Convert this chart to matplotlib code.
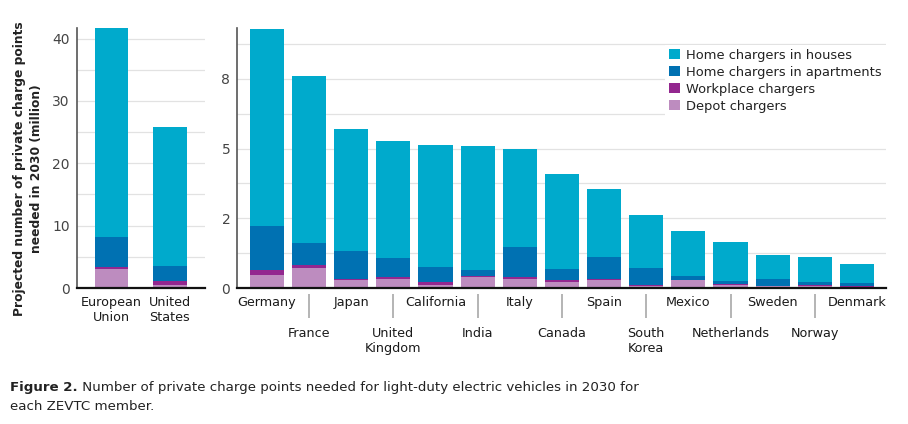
import matplotlib
matplotlib.use("Agg")
import matplotlib.pyplot as plt
import numpy as np

# ---- data (million charge points) ----
big_regions = ["European\nUnion", "United\nStates"]
big_depot = [3.1, 0.48]
big_workplace = [0.32, 0.64]
big_apartments = [4.8, 2.46]
big_houses = [33.5, 22.2]

members = ["Germany", "France", "Japan", "United\nKingdom", "California", "India",
           "Italy", "Canada", "Spain", "South\nKorea", "Mexico", "Netherlands",
           "Sweden", "Norway", "Denmark"]
depot = [0.47, 0.73, 0.29, 0.33, 0.11, 0.38, 0.32, 0.22, 0.29, 0.07, 0.29, 0.11, 0.07, 0.08, 0.05]
workplace = [0.18, 0.08, 0.02, 0.05, 0.11, 0.05, 0.06, 0.07, 0.03, 0.04, 0.01, 0.03, 0.01, 0.03, 0.03]
apartments = [1.57, 0.81, 1.02, 0.69, 0.54, 0.22, 1.09, 0.39, 0.79, 0.61, 0.13, 0.11, 0.24, 0.11, 0.10]
houses = [7.09, 5.98, 4.37, 4.20, 4.36, 4.44, 3.52, 3.41, 2.44, 1.90, 1.63, 1.41, 0.86, 0.89, 0.68]

series_names = ["Depot chargers", "Workplace chargers",
                "Home chargers in apartments", "Home chargers in houses"]
colors = ["#bd8cbf", "#93278f", "#0071b2", "#00aacc"]

left_ticks = [0, 10, 20, 30, 40]
right_ticks = [0, 2.5, 5, 7.5]
right_tick_labels = ["0", "2", "5", "8"]

caption_bold = "Figure 2."
caption_rest = " Number of private charge points needed for light-duty electric vehicles in 2030 for"
caption_line2 = "each ZEVTC member."

W, H = 908, 424
fig = plt.figure(figsize=(W / 100, H / 100), dpi=100)
ax1 = fig.add_axes([76.7 / W, 136 / H, 128.3 / W, 260 / H])
ax2 = fig.add_axes([237.3 / W, 136 / H, 648.4 / W, 260 / H])

grid_c = "#e2e2e2"
txt_c = "#222222"


def stack(ax, x, layers, width):
    bottom = np.zeros(len(x))
    handles = []
    for vals, col, name in zip(layers, colors, series_names):
        h = ax.bar(x, vals, width, bottom=bottom, color=col, label=name, linewidth=0, zorder=2)
        handles.append(h)
        bottom += np.array(vals)
    return handles


# left panel
x1 = np.arange(len(big_regions))
stack(ax1, x1, [big_depot, big_workplace, big_apartments, big_houses], 0.57)
ax1.set_xlim(-0.59, 1.6)
ax1.set_ylim(0, 41.7)
ax1.set_yticks(left_ticks)
ax1.set_yticks(np.arange(5, 41, 5), minor=True)
ax1.set_xticks(x1, big_regions)

# right panel
x2 = np.arange(len(members))
handles = stack(ax2, x2, [depot, workplace, apartments, houses], 0.81)
ax2.set_xlim(-0.70, 14.68)
ax2.set_ylim(0, 9.33)
ax2.set_yticks(right_ticks, right_tick_labels)
ax2.set_yticks(np.arange(1.25, 9.3, 1.25), minor=True)

even = x2[::2]
odd = x2[1::2]
ax2.set_xticks(even, [members[i] for i in even])
ax2.set_xticks(odd, [members[i] for i in odd], minor=True)
ax2.tick_params(axis="x", which="minor", length=0, pad=28)
ax2.vlines(odd, -6 / 260, -30 / 260, transform=ax2.get_xaxis_transform(),
           color="#a8a8a8", lw=1.2, clip_on=False)

for ax in (ax1, ax2):
    ax.grid(axis="y", which="both", color=grid_c, lw=0.9, zorder=0)
    ax.set_axisbelow(True)
    for s in ("top", "right"):
        ax.spines[s].set_visible(False)
    ax.spines["bottom"].set_color("#111111")
    ax.spines["bottom"].set_linewidth(1.6)
    ax.spines["bottom"].set_zorder(3)
    ax.spines["left"].set_color("#555555")
    ax.spines["left"].set_linewidth(1.2)
    ax.tick_params(axis="y", which="both", length=0, pad=5, labelsize=10, labelcolor="#444444")
    ax.tick_params(axis="x", which="major", length=0, pad=6)
    ax.tick_params(axis="x", which="both", labelsize=9.2, labelcolor="#1a1a1a")

leg = ax2.legend(handles[::-1], series_names[::-1], loc="upper right",
                 bbox_to_anchor=(1.0, (288 - 45) / 260), fontsize=9.4,
                 handlelength=0.8, handleheight=0.8, handletextpad=0.5,
                 labelspacing=0.3, borderpad=0.3, borderaxespad=0,
                 frameon=True, fancybox=False, framealpha=1)
leg.get_frame().set_edgecolor("none")
leg.get_frame().set_facecolor("white")
for t in leg.get_texts():
    t.set_color(txt_c)

fig.text(28 / W, 1 - 169 / H,
         "Projected number of private charge points\nneeded in 2030 (million)",
         rotation=90, ha="center", va="center", multialignment="center",
         fontsize=8.8, fontweight="bold", color=txt_c, linespacing=1.45)

# caption with bold lead-in
fig.canvas.draw()
r = fig.canvas.get_renderer()
cb = fig.text(10 / W, 1 - 388 / H, caption_bold, fontsize=9.6, fontweight="bold",
              color=txt_c, va="center")
bb = cb.get_window_extent(renderer=r)
fig.text(bb.x1 / W, 1 - 388 / H, caption_rest, fontsize=9.6, color=txt_c, va="center")
fig.text(10 / W, 1 - 406 / H, caption_line2, fontsize=9.6, color=txt_c, va="center")

fig.savefig("out.png", dpi=100)
